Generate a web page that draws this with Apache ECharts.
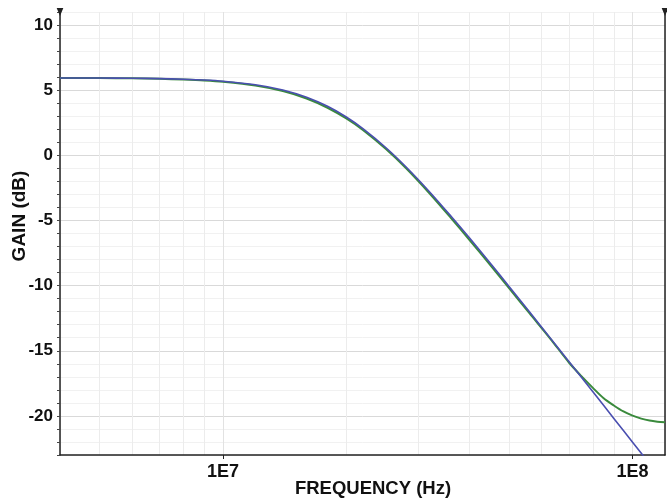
<!DOCTYPE html>
<html>
<head>
<meta charset="utf-8">
<script src="https://cdn.jsdelivr.net/npm/echarts@6/dist/echarts.min.js"></script>
<style>
html,body{margin:0;padding:0;background:#fff;}
#chart{width:667px;height:502px;}
</style>
</head>
<body>
<div id="chart"></div>
<script>
// ---- data ----
const blueFreq = [4e6,5e6,6e6,7e6,8e6,9e6,1e7,1.2e7,1.4e7,1.6e7,1.8e7,2e7,2.2e7,2.5e7,2.8e7,3.2e7,3.6e7,4e7,4.5e7,5e7,5.6e7,6.3e7,7e7,8e7,9e7,1e8,1.1e8];
const blueGain = [5.94,5.93,5.92,5.89,5.84,5.78,5.69,5.42,5.02,4.46,3.76,2.94,2.03,0.58,-0.90,-2.83,-4.66,-6.35,-8.30,-10.08,-12.01,-14.03,-15.84,-18.15,-20.19,-22.02,-23.67];
const greenFreq = [4e6,5e6,6e6,7e6,8e6,9e6,1e7,1.2e7,1.4e7,1.6e7,1.8e7,2e7,2.2e7,2.5e7,2.8e7,3.2e7,3.6e7,4e7,4.5e7,5e7,5.6e7,6.3e7,7e7,7.5e7,8e7,8.5e7,9e7,9.5e7,1e8,1.05e8,1.1e8,1.15e8,1.2e8];
const greenGain = [5.94,5.93,5.91,5.87,5.81,5.74,5.64,5.35,4.93,4.36,3.65,2.83,1.93,0.48,-1.00,-2.95,-4.80,-6.50,-8.45,-10.22,-12.12,-14.08,-15.92,-16.95,-17.85,-18.65,-19.20,-19.66,-19.98,-20.21,-20.36,-20.44,-20.48];
const xMinorTicks = [5e6,6e6,7e6,8e6,9e6,2e7,3e7,4e7,5e7,6e7,7e7,8e7,9e7];
const xMin = 4e6, xMax = 1.2e8;
const yMin = -23, yMax = 11;
const yLabelStep = 5;

const chart = echarts.init(document.getElementById('chart'), null, {renderer:'canvas'});
const font = 'Arial, "Liberation Sans", sans-serif';
const downArrow = 'path://M0,0L10,0L5,12Z';

const gridLines = xMinorTicks.map(v => ({xAxis: v}));
const tickMarks = xMinorTicks.map(v => [
  {coord:[v, yMin]},
  {coord:[v, yMin - 0.28]}
]);

chart.setOption({
  animation: false,
  backgroundColor: '#fff',
  grid: {left: 60, right: 2, top: 12, bottom: 47, containLabel: false},
  xAxis: {
    type: 'log', logBase: 10, min: xMin, max: xMax,
    axisLine: {show: true, onZero: false, lineStyle: {color: '#222', width: 1.5}},
    axisTick: {show: true, inside: false, length: 4, lineStyle: {color: '#222'}},
    axisLabel: {
      show: true, margin: 8, showMinLabel: false, showMaxLabel: false,
      color: '#111', fontFamily: font, fontWeight: 'bold', fontSize: 18,
      formatter: function (v) {
        const e = Math.round(Math.log10(v));
        return Math.abs(v - Math.pow(10, e)) / Math.pow(10, e) < 1e-6 ? '1E' + e : '';
      }
    },
    splitLine: {show: true, lineStyle: {color: '#e2e2e2', width: 1}}
  },
  yAxis: [{
    type: 'value', min: yMin, max: yMax, interval: 1,
    axisLine: {show: true, onZero: false, symbol: ['none', downArrow], symbolSize: [7, 8], lineStyle: {color: '#222', width: 1.5}},
    axisTick: {show: true, inside: false, length: 3, lineStyle: {color: '#444'}},
    axisLabel: {
      margin: 7, color: '#111', fontFamily: font, fontWeight: 'bold', fontSize: 17,
      formatter: v => (v % yLabelStep === 0 ? String(v) : '')
    },
    splitLine: {show: true, lineStyle: {color: ['#f1f1f1','#f1f1f1','#f1f1f1','#d9d9d9','#f1f1f1'], width: 1}}
  }, {
    type: 'value', min: yMin, max: yMax, position: 'right',
    axisLine: {show: true, onZero: false, symbol: ['none', downArrow], symbolSize: [7, 8], lineStyle: {color: '#222', width: 1.5}},
    axisTick: {show: false}, axisLabel: {show: false}, splitLine: {show: false}
  }],
  graphic: [
    {type: 'text', x: 373, y: 489, style: {text: 'FREQUENCY (Hz)', font: 'bold 18.5px ' + font, fill: '#111', align: 'center', verticalAlign: 'middle'}},
    {type: 'text', x: 20, y: 216, rotation: Math.PI / 2, style: {text: 'GAIN (dB)', font: 'bold 19px ' + font, fill: '#111', align: 'center', verticalAlign: 'middle'}}
  ],
  series: [
    {
      name: 'grid', type: 'line', data: [], clip: false, silent: true,
      markLine: {
        silent: true, symbol: 'none', label: {show: false}, z: 0,
        lineStyle: {color: '#ececec', width: 1, type: 'solid'},
        data: gridLines
      },
      z: 0
    },
    {
      name: 'ticks', type: 'line', data: [], clip: false, silent: true,
      markLine: {
        silent: true, symbol: 'none', label: {show: false},
        lineStyle: {color: '#333', width: 1, type: 'solid'},
        data: tickMarks
      },
      z: 5
    },
    {
      name: 'green', type: 'line', showSymbol: false, smooth: 0.3, clip: true,
      data: greenFreq.map((f, i) => [f, greenGain[i]]),
      lineStyle: {color: '#3a8a3c', width: 2},
      z: 10
    },
    {
      name: 'blue', type: 'line', showSymbol: false, smooth: 0.3, clip: true,
      data: blueFreq.map((f, i) => [f, blueGain[i]]),
      lineStyle: {color: '#4a4fb0', width: 1.6},
      z: 11
    }
  ]
});
</script>
</body>
</html>
